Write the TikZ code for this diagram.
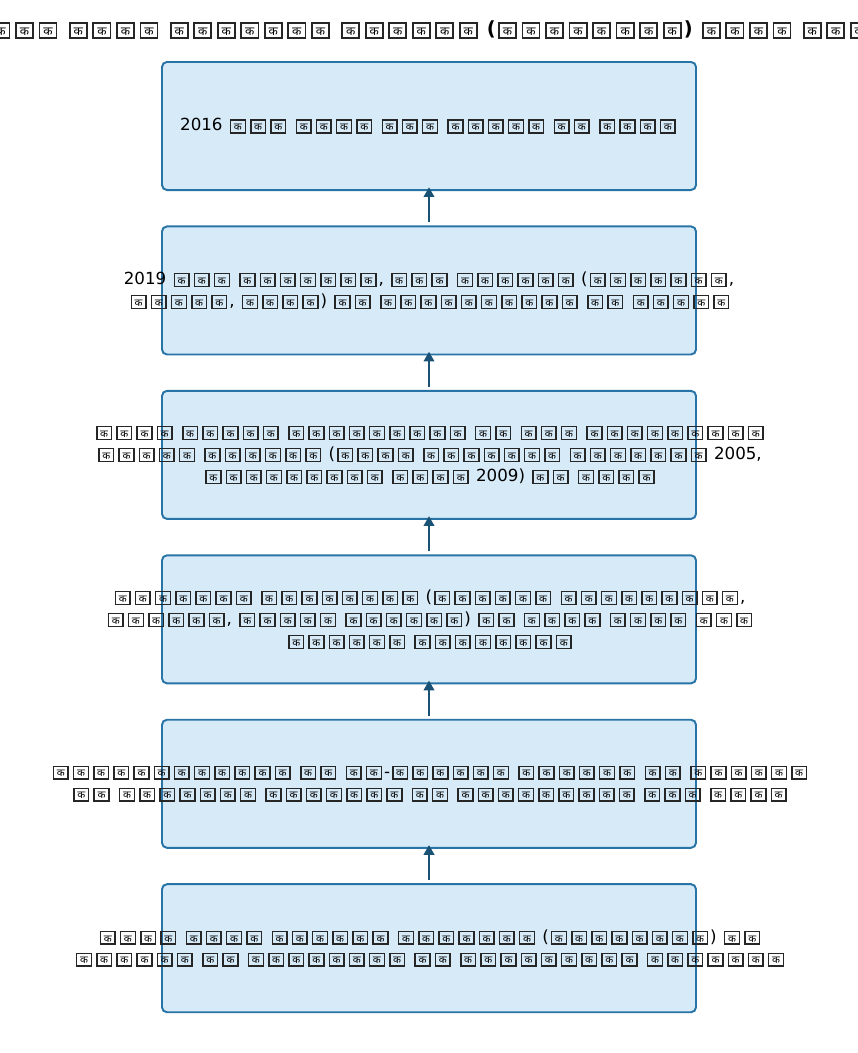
\documentclass[tikz,border=0pt]{standalone}
\usepackage{fontspec}
\setmainfont{DejaVu Sans}
\newfontfamily\devafont[Script=Devanagari]{Noto Sans}
\usetikzlibrary{positioning,arrows.meta}

\definecolor{stageline}{HTML}{2874A6}
\definecolor{stagefill}{HTML}{D6EAF8}
\definecolor{flowline}{HTML}{1A5276}

% one glyph as the picture prints it (boxed ka)
\newcommand\tofu{\hspace{0.12em}\raisebox{-0.08em}{\edef\tofusz{\the\dimexpr0.62em\relax}%
  \setlength\fboxsep{0pt}\setlength\fboxrule{0.09em}\color{black!85}%
  \fbox{\makebox[0.79em][c]{\rule{0pt}{0.68em}\raisebox{0.09em}{\color{black}\devafont\fontsize{\tofusz}{\tofusz}\selectfont क}}}}\hspace{0.12em}}
\newcommand\kw[1]{\foreach\i in {1,...,#1}{\tofu}}

\begin{document}
\begin{tikzpicture}[x=0.72pt,y=-0.72pt,
  stage/.style={draw=stageline,fill=stagefill,line width=1.4pt,rounded corners=3.6pt,
    minimum width=384.5pt,minimum height=92.2pt,inner sep=0pt,outer sep=0pt},
  stagetext/.style={align=center,font=\fontsize{12}{15.8}\selectfont,inner sep=0pt},
  flow/.style={draw=flowline,line width=1.6pt,-{Triangle[length=7pt,width=7.5pt]}},
  node distance=26.2pt]
  \fill[white] (0,0) rectangle (858,1053);
  \useasboundingbox (0,0) rectangle (858,1053);

  % title
  \node[font=\fontsize{14}{17}\selectfont\bfseries,inner sep=0pt] (title) at (429,30)
    {\kw3 \kw4 \kw7 \kw6 (\kw8) \kw4 \kw3};

  % stages, top to bottom
  \node[stage] (s1) at (429,126) {};
  \node[stage,below=of s1] (s2) {};
  \node[stage,below=of s2] (s3) {};
  \node[stage,below=of s3] (s4) {};
  \node[stage,below=of s4] (s5) {};
  \node[stage,below=of s5] (s6) {};

  \node[stagetext] (t1) at (s1) {2016 \kw3 \kw4 \kw3 \kw5 \kw2 \kw4};
  \node[stagetext] (t2) at (s2) {2019 \kw3 \kw7, \kw3 \kw6 (\kw7,\\ \kw5, \kw4) \kw2 \kw{10} \kw2 \kw5};
  \node[stagetext] (t3) at (s3) {\kw4 \kw5 \kw9 \kw2 \kw3 \kw9\\ \kw5 \kw6 (\kw4 \kw7 \kw7 2005,\\ \kw9 \kw4 2009) \kw2 \kw4};
  \node[stagetext] (t4) at (s4) {\kw7 \kw8 (\kw6 \kw9,\\ \kw6, \kw5 \kw6) \kw2 \kw4 \kw4 \kw3\\ \kw6 \kw8};
  \node[stagetext] (t5) at (s5) {\kw{12} \kw2 \kw2-\kw6 \kw6 \kw2 \kw6\\ \kw2 \kw7 \kw7 \kw2 \kw9 \kw3 \kw4};
  \node[stagetext] (t6) at (s6) {\kw4 \kw4 \kw6 \kw7 (\kw8) \kw2\\ \kw6 \kw2 \kw8 \kw2 \kw9 \kw7};

  % arrows point upward
  \draw[flow] ([yshift=2.9pt]s2.north) -- ([yshift=2pt]s1.south);
  \draw[flow] ([yshift=2.9pt]s3.north) -- ([yshift=2pt]s2.south);
  \draw[flow] ([yshift=2.9pt]s4.north) -- ([yshift=2pt]s3.south);
  \draw[flow] ([yshift=2.9pt]s5.north) -- ([yshift=2pt]s4.south);
  \draw[flow] ([yshift=2.9pt]s6.north) -- ([yshift=2pt]s5.south);
\end{tikzpicture}
\end{document}
